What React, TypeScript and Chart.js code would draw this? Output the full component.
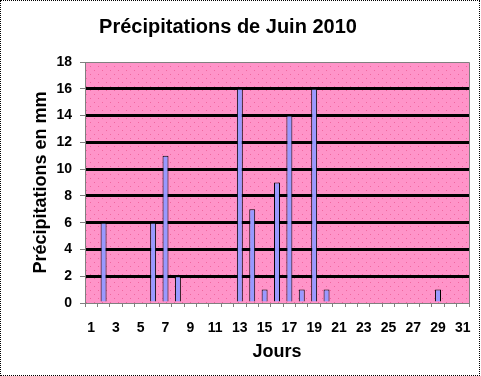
import React, { useEffect, useRef } from "react";
import { Chart, registerables } from "chart.js";

Chart.register(...registerables);

const days: string[] = [
  "1","2","3","4","5","6","7","8","9","10","11","12","13","14","15","16",
  "17","18","19","20","21","22","23","24","25","26","27","28","29","30","31",
];
const rainfall: number[] = [
  0, 6, 0, 0, 0, 6, 11, 2, 0, 0, 0, 0, 16, 7, 1, 9,
  14, 1, 16, 1, 0, 0, 0, 0, 0, 0, 0, 0, 1, 0, 0,
];
const yTicks: number[] = [0, 2, 4, 6, 8, 10, 12, 14, 16, 18];
const chartTitle = "Précipitations de Juin 2010";
const yTitle = "Précipitations en mm";
const xTitle = "Jours";

const FONT = "Arial, 'Liberation Sans', sans-serif";

function makePattern(): CanvasPattern | string {
  const c = document.createElement("canvas");
  c.width = 8;
  c.height = 8;
  const g = c.getContext("2d");
  if (!g) return "#FF94C9";
  g.fillStyle = "#FF94C9";
  g.fillRect(0, 0, 8, 8);
  g.fillStyle = "#F0679F";
  g.fillRect(1, 1, 1, 1);
  g.fillRect(5, 5, 1, 1);
  const p = g.createPattern(c, "repeat");
  return p || "#FF94C9";
}

export default function App() {
  const ref = useRef<HTMLCanvasElement | null>(null);

  useEffect(() => {
    const canvas = ref.current;
    if (!canvas) return;
    const pattern = makePattern();

    const plotBg = {
      id: "plotBg",
      beforeDraw(chart: any) {
        const { ctx, chartArea } = chart;
        ctx.save();
        ctx.fillStyle = pattern;
        ctx.fillRect(chartArea.left, chartArea.top, chartArea.right - chartArea.left, chartArea.bottom - chartArea.top);
        ctx.restore();
      },
      afterDraw(chart: any) {
        const { ctx, chartArea } = chart;
        ctx.save();
        ctx.strokeStyle = "#808080";
        ctx.lineWidth = 1;
        ctx.beginPath();
        ctx.moveTo(chartArea.left, chartArea.top + 0.5);
        ctx.lineTo(chartArea.right + 0.5, chartArea.top + 0.5);
        ctx.lineTo(chartArea.right + 0.5, chartArea.bottom);
        ctx.stroke();
        // main title
        ctx.fillStyle = "#000";
        ctx.font = `bold 20px ${FONT}`;
        ctx.textAlign = "center";
        ctx.textBaseline = "middle";
        ctx.fillText(chartTitle, 227, 26);
        ctx.restore();
      },
    };

    const chart = new Chart(canvas, {
      type: "bar",
      data: {
        labels: days,
        datasets: [
          {
            data: rainfall,
            backgroundColor: "#9999FF",
            borderColor: "#000000",
            borderWidth: 1,
            barPercentage: 0.48,
            categoryPercentage: 1,
          },
        ],
      },
      options: {
        responsive: false,
        animation: false,
        layout: { padding: { left: 0, right: 10, top: 61, bottom: 0 } },
        plugins: {
          legend: { display: false },
          tooltip: { enabled: false },
          title: { display: false },
        },
        scales: {
          x: {
            type: "category",
            offset: true,
            grid: {
              offset: true,
              drawOnChartArea: false,
              drawTicks: true,
              tickLength: 4,
              color: "#808080",
              tickColor: "#808080",
              tickWidth: 1,
            },
            border: { display: true, color: "#808080", width: 1 },
            ticks: {
              autoSkip: false,
              maxRotation: 0,
              minRotation: 0,
              padding: 13,
              color: "#000",
              font: { family: FONT, size: 14, weight: "bold" },
              callback: (_v: any, i: number) => (i % 2 === 0 ? days[i] : ""),
            },
            title: {
              display: true,
              text: xTitle,
              color: "#000",
              font: { family: FONT, size: 18, weight: "bold" },
              padding: { top: 0, bottom: 12 },
            },
            afterFit: (s: any) => {
              s.height = 72;
              s.paddingLeft = 0;
              s.paddingRight = 0;
            },
          },
          y: {
            min: 0,
            max: 18,
            afterBuildTicks: (s: any) => {
              s.ticks = yTicks.map((v) => ({ value: v }));
            },
            grid: {
              color: (c: any) =>
                c.tick && (c.tick.value === 0 || c.tick.value === 18) ? "rgba(0,0,0,0)" : "#000000",
              lineWidth: 3,
              drawTicks: true,
              tickLength: 5,
              tickColor: "#808080",
              tickWidth: 1,
            },
            border: { display: true, color: "#808080", width: 1 },
            ticks: {
              padding: 8,
              color: "#000",
              font: { family: FONT, size: 14, weight: "bold" },
            },
            title: {
              display: true,
              text: yTitle,
              color: "#000",
              font: { family: FONT, size: 18, weight: "bold" },
              padding: { top: 29, bottom: 0 },
            },
            afterFit: (s: any) => {
              s.width = 84;
            },
          },
        },
      } as any,
      plugins: [plotBg],
    });

    return () => chart.destroy();
  }, []);

  return (
    <div
      style={{
        position: "absolute",
        left: 0,
        top: 0,
        width: 480,
        height: 376,
        boxSizing: "border-box",
        border: "1px dotted #000",
        background: "#fff",
      }}
    >
      <canvas ref={ref} width={478} height={374} style={{ display: "block", width: 478, height: 374 }} />
    </div>
  );
}
